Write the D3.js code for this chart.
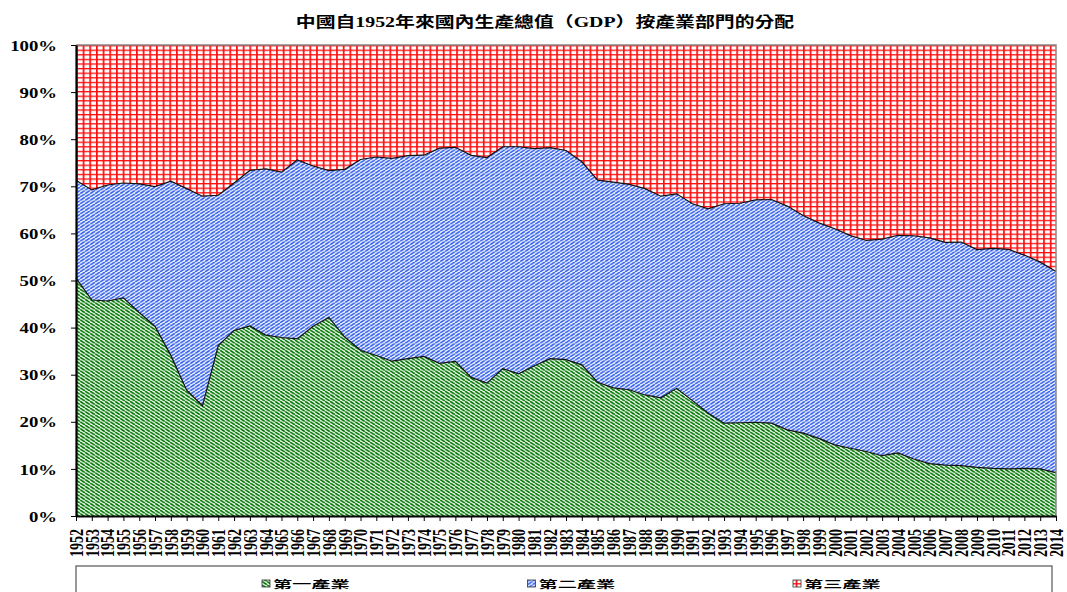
<!DOCTYPE html>
<html>
<head>
<meta charset="utf-8">
<script src="https://cdn.jsdelivr.net/npm/d3@7"></script>
<style>
  html, body { margin: 0; padding: 0; background: #fff; }
  svg { display: block; }
</style>
</head>
<body>
<div id="chart"></div>
<script>
// Data (share of GDP, %)
const years = d3.range(1952, 2015).map(String);
const primary = [50.5, 45.9, 45.6, 46.3, 43.2, 40.3, 34.1, 26.7, 23.4, 36.2,
  39.4, 40.3, 38.4, 37.9, 37.6, 40.3, 42.2, 38.0, 35.2, 34.1,
  32.9, 33.4, 33.9, 32.4, 32.8, 29.4, 28.2, 31.3, 30.2, 31.9,
  33.4, 33.2, 32.1, 28.4, 27.2, 26.8, 25.7, 25.1, 27.1, 24.5,
  21.8, 19.7, 19.8, 19.9, 19.7, 18.3, 17.6, 16.5, 15.1, 14.4,
  13.7, 12.8, 13.4, 12.1, 11.1, 10.8, 10.7, 10.3, 10.1, 10.0,
  10.1, 10.0, 9.2];
const secondary = [20.8, 23.4, 24.6, 24.4, 27.3, 29.7, 37.0, 42.8, 44.5, 31.9,
  31.3, 33.0, 35.3, 35.1, 38.0, 34.0, 31.2, 35.6, 40.5, 42.2,
  43.1, 43.1, 42.7, 45.7, 45.4, 47.1, 47.9, 47.1, 48.2, 46.1,
  44.8, 44.4, 43.1, 42.9, 43.7, 43.6, 43.8, 42.8, 41.3, 41.8,
  43.4, 46.6, 46.6, 47.2, 47.5, 47.5, 46.2, 45.8, 45.9, 45.2,
  44.8, 46.0, 46.2, 47.4, 47.9, 47.3, 47.4, 46.2, 46.7, 46.6,
  45.3, 43.9, 42.7];
const tertiary = [28.7, 30.8, 29.7, 29.3, 29.5, 30.1, 28.9, 30.5, 32.1, 31.9,
  29.3, 26.6, 26.3, 27.0, 24.4, 25.7, 26.7, 26.4, 24.3, 23.8,
  24.1, 23.5, 23.4, 21.9, 21.7, 23.4, 23.9, 21.6, 21.6, 22.0,
  21.8, 22.4, 24.8, 28.7, 29.1, 29.6, 30.5, 32.1, 31.6, 33.7,
  34.8, 33.7, 33.6, 32.9, 32.8, 34.2, 36.2, 37.8, 39.0, 40.5,
  41.5, 41.2, 40.4, 40.5, 40.9, 41.9, 41.8, 43.4, 43.2, 43.4,
  44.6, 46.1, 48.1];
const seriesNames = ["第一產業", "第二產業", "第三產業"];
const yTicks = [0, 10, 20, 30, 40, 50, 60, 70, 80, 90, 100];
const titleText = "中國自1952年來國內生產總值（GDP）按產業部門的分配";

const width = 1067, height = 592;
const plotLeft = 76, plotRight = 1056, plotTop = 45, plotBottom = 516;
const sx = 1.37; // the reference is stretched horizontally
const serif = "'Liberation Serif', 'Times New Roman', serif";
const cjk = "'Liberation Serif', 'Noto Sans CJK TC', serif";

const svg = d3.select("#chart").append("svg")
    .attr("width", width)
    .attr("height", height);

// Hatch patterns (Excel style)
const defs = svg.append("defs");

function diag(id, color, down) {
    const w = 5, h = 3.4;
    const p = defs.append("pattern")
        .attr("id", id)
        .attr("patternUnits", "userSpaceOnUse")
        .attr("width", w)
        .attr("height", h);
    p.append("rect").attr("width", w).attr("height", h).attr("fill", "#fff");
    [-w, 0, w].forEach(o => {
        p.append("line")
            .attr("x1", o).attr("y1", down ? 0 : h)
            .attr("x2", o + w).attr("y2", down ? h : 0)
            .attr("stroke", color)
            .attr("stroke-width", 1.7);
    });
}
diag("pat0", "#067a06", true);
diag("pat1", "#3a66ec", false);

const grid = defs.append("pattern")
    .attr("id", "pat2")
    .attr("patternUnits", "userSpaceOnUse")
    .attr("x", plotLeft)
    .attr("y", plotTop)
    .attr("width", 6.67)
    .attr("height", 4.6);
grid.append("rect").attr("width", 6.67).attr("height", 4.6).attr("fill", "#fff");
grid.append("rect").attr("x", 0).attr("y", 0).attr("width", 1.7).attr("height", 4.6).attr("fill", "#ff0c0c");
grid.append("rect").attr("x", 0).attr("y", 0).attr("width", 6.67).attr("height", 1.3).attr("fill", "#ff0c0c");

const patterns = ["url(#pat0)", "url(#pat1)", "url(#pat2)"];

// Scales
const x = d3.scalePoint().domain(years).range([plotLeft, plotRight]);
const y = d3.scaleLinear().domain([0, 100]).range([plotBottom, plotTop]);

const rows = years.map((yr, i) => ({ year: yr, s0: primary[i], s1: secondary[i], s2: tertiary[i] }));
const stacked = d3.stack().keys(["s0", "s1", "s2"])
    .offset(d3.stackOffsetExpand)(rows);

const area = d3.area()
    .x(d => x(d.data.year))
    .y0(d => y(d[0] * 100))
    .y1(d => y(d[1] * 100));

const line = d3.line()
    .x(d => x(d.data.year))
    .y(d => y(d[1] * 100));

svg.append("g").selectAll("path")
    .data(stacked)
    .join("path")
    .attr("fill", (d, i) => patterns[i])
    .attr("d", area);

// Black outlines on top of the lower two series
svg.append("g").selectAll("path")
    .data(stacked.slice(0, 2))
    .join("path")
    .attr("fill", "none")
    .attr("stroke", "#111")
    .attr("stroke-width", 1.2)
    .attr("d", line);

// Plot border (top / right)
svg.append("path")
    .attr("d", `M${plotLeft},${plotTop}H${plotRight}V${plotBottom}`)
    .attr("fill", "none")
    .attr("stroke", "#888")
    .attr("stroke-width", 1.5);

// Y axis
const yAxis = d3.axisLeft(y)
    .tickValues(yTicks)
    .tickFormat(d => d + "%")
    .tickSize(5)
    .tickSizeOuter(0)
    .tickPadding(9);

const yg = svg.append("g")
    .attr("transform", `translate(${plotLeft},0)`)
    .call(yAxis);
yg.select(".domain").attr("stroke", "#000").attr("stroke-width", 2.2);
yg.selectAll(".tick line").attr("stroke", "#000").attr("stroke-width", 1);
yg.selectAll(".tick text")
    .attr("transform", "scale(1.25,1)")
    .attr("x", -15.2)
    .attr("dy", "0.34em")
    .style("font-family", serif)
    .style("font-weight", "bold")
    .style("font-size", "15px")
    .attr("fill", "#000");

// X axis
const xAxis = d3.axisBottom(x)
    .tickSize(5)
    .tickSizeOuter(0);

const xg = svg.append("g")
    .attr("transform", `translate(0,${plotBottom})`)
    .call(xAxis);
xg.select(".domain").attr("stroke", "#000").attr("stroke-width", 2.2);
xg.selectAll(".tick line").attr("stroke", "#000").attr("stroke-width", 1);
xg.selectAll(".tick text")
    .attr("transform", "scale(1.3,1) rotate(-90)")
    .attr("x", -13)
    .attr("y", 0)
    .attr("dy", "0.35em")
    .attr("text-anchor", "end")
    .style("font-family", serif)
    .style("font-weight", "bold")
    .style("font-size", "14px")
    .attr("fill", "#000");

// Title
svg.append("text")
    .attr("transform", `translate(545,27) scale(${sx},1)`)
    .attr("text-anchor", "middle")
    .style("font-family", cjk)
    .style("font-weight", "bold")
    .style("font-size", "14.5px")
    .text(titleText);

// Legend
svg.append("rect")
    .attr("x", plotLeft)
    .attr("y", 566)
    .attr("width", 976)
    .attr("height", 40)
    .attr("fill", "#fff")
    .attr("stroke", "#555")
    .attr("stroke-width", 1.2);

const lx = d3.scalePoint().domain(seriesNames).range([262, 793]);
const items = svg.append("g").selectAll("g")
    .data(seriesNames)
    .join("g")
    .attr("transform", d => `translate(${lx(d)},0)`);

items.append("rect")
    .attr("x", 0)
    .attr("y", 580)
    .attr("width", 8)
    .attr("height", 7)
    .attr("fill", (d, i) => patterns[i])
    .attr("stroke", "#333")
    .attr("stroke-width", 0.8);

items.append("text")
    .attr("transform", `translate(11,588) scale(${sx},0.72)`)
    .style("font-family", "'Noto Sans CJK TC', sans-serif")
    .style("font-weight", "bold")
    .style("font-size", "14px")
    .text(d => d);
</script>
</body>
</html>
